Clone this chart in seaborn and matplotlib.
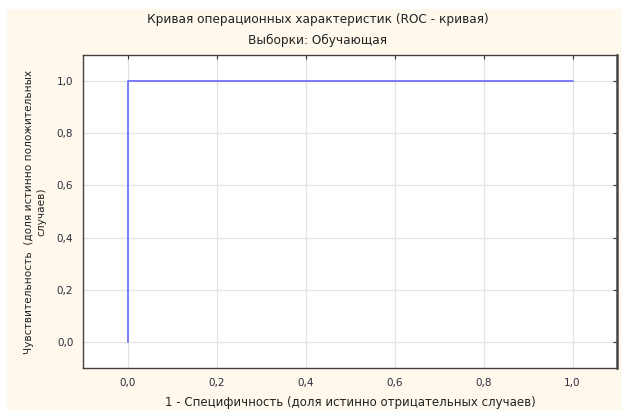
import matplotlib
matplotlib.use("Agg")
import matplotlib.pyplot as plt
from matplotlib.ticker import FuncFormatter, MultipleLocator
from matplotlib.patches import Rectangle
import pandas as pd
import seaborn as sns

# ROC points (training sample)
fpr = [0.0, 0.0, 1.0]
tpr = [0.0, 1.0, 1.0]
title = "Кривая операционных характеристик (ROC - кривая)\nВыборки: Обучающая"
xlabel = "1 - Специфичность (доля истинно отрицательных случаев)"
ylabel = "Чувствительность  (доля истинно положительных\nслучаев)"

data = pd.DataFrame({"fpr": fpr, "tpr": tpr})

sns.set_style("white")
plt.rcParams["font.family"] = ["DejaVu Sans"]

W, H = 622, 411
fig = plt.figure(figsize=(W / 100, H / 100), dpi=100, facecolor="white")
fig.patches.append(Rectangle((7 / W, 1 / H), 615 / W, 401 / H,
                             transform=fig.transFigure, facecolor="#FFF8EC",
                             edgecolor="none", zorder=-10))
ax = fig.add_axes([83 / W, 43 / H, 534 / W, 313 / H])
ax.set_facecolor("white")

sns.lineplot(data=data, x="fpr", y="tpr", sort=False, estimator=None,
             color="#7272FF", linewidth=1.3, ax=ax)

ax.set_xlim(-0.1, 1.1)
ax.set_ylim(-0.1, 1.1)
ax.xaxis.set_major_locator(MultipleLocator(0.2))
ax.yaxis.set_major_locator(MultipleLocator(0.2))
comma = FuncFormatter(lambda v, p: f"{v:.1f}".replace(".", ","))
ax.xaxis.set_major_formatter(comma)
ax.yaxis.set_major_formatter(comma)
ax.grid(True, color="#E3E3E3", linewidth=0.9)
ax.set_axisbelow(True)
ax.tick_params(direction="in", length=3, width=0.8, top=True, right=True,
               labelsize=7.5, colors="#333333", labelcolor="#2b2b3d")
ax.tick_params(axis="x", pad=7)
ax.tick_params(axis="y", pad=7)
for s in ax.spines.values():
    s.set_color("#444444")
    s.set_linewidth(1.0)
ax.spines["right"].set_linewidth(1.8)

fig.suptitle(title, x=318 / W, y=1 - 13 / H, va="top", fontsize=8.7,
             color="#222222", linespacing=1.75)
ax.set_xlabel(xlabel, fontsize=8.5, color="#222222", va="top")
ax.xaxis.set_label_coords(0.5, -(396 - 368) / 313)
ax.set_ylabel(ylabel, fontsize=7.6, color="#222222")
ax.yaxis.set_label_coords(-(83 - 46) / 534, 0.5)

fig.savefig("out.png", dpi=100, facecolor=fig.get_facecolor())
